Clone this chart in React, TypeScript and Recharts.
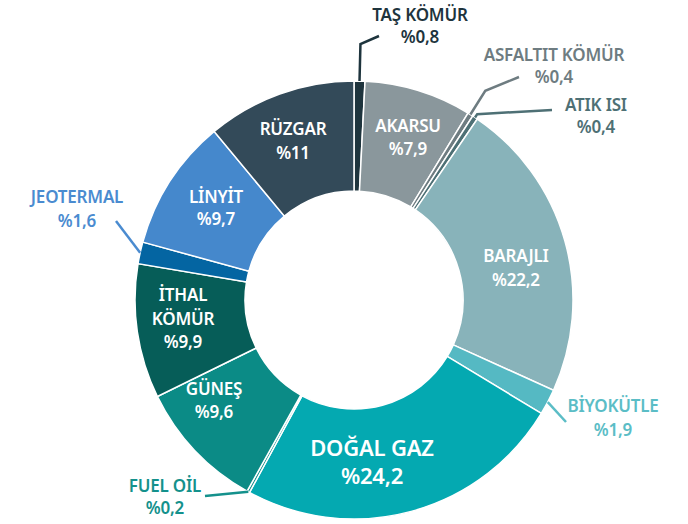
import { PieChart, Pie, Cell } from 'recharts'

const NAMES = ['TAŞ KÖMÜR', 'AKARSU', 'ASFALTIT KÖMÜR', 'ATIK ISI', 'BARAJLI', 'BİYOKÜTLE', 'DOĞAL GAZ', 'FUEL OİL', 'GÜNEŞ', 'İTHAL KÖMÜR', 'JEOTERMAL', 'LİNYİT', 'RÜZGAR']
const VALUES = [0.8, 7.9, 0.4, 0.4, 22.2, 1.9, 24.2, 0.2, 9.6, 9.9, 1.6, 9.7, 11]
const COLORS = ['#1e343d', '#8a979c', '#6e7c81', '#4e7075', '#88b3ba', '#55b9c3', '#04a9b1', '#138f8a', '#0b8b86', '#065d58', '#0465a2', '#4588cc', '#334a59']

const data = NAMES.map((name, i) => ({ name, value: VALUES[i] }))

const FONT = '"Noto Sans", "Open Sans", sans-serif'
const RAD = Math.PI / 180

type Layout = {
  x: number
  y: number[]
  color?: string
  size?: number
  split?: boolean
  leader?: { elbow?: number; end: [number, number] }
}

// label placement relative to the pie centre
const LAYOUT: Record<string, Layout> = {
  'TAŞ KÖMÜR': { x: 66, y: [-279, -257], color: '#1e343d', leader: { elbow: 256, end: [25, -264] } },
  'AKARSU': { x: 54, y: [-168, -145] },
  'ASFALTIT KÖMÜR': { x: 200, y: [-239, -217], color: '#6e7c81', leader: { elbow: 247, end: [165, -223] } },
  'ATIK ISI': { x: 242, y: [-189, -167], color: '#4e7075', leader: { elbow: 223, end: [198, -190] } },
  'BARAJLI': { x: 162, y: [-38, -14] },
  'BİYOKÜTLE': { x: 259, y: [112, 136], color: '#5bbdc6', leader: { end: [212, 122] } },
  'DOĞAL GAZ': { x: 18, y: [156, 184], size: 22 },
  'FUEL OİL': { x: -189, y: [192, 214], color: '#14918c', leader: { end: [-149, 196] } },
  'GÜNEŞ': { x: -140, y: [95, 118] },
  'İTHAL KÖMÜR': { x: -171, y: [1, 25, 48], split: true },
  'JEOTERMAL': { x: -277, y: [-97, -73], color: '#4a8bd0', leader: { end: [-238, -79] } },
  'LİNYİT': { x: -138, y: [-97, -75] },
  'RÜZGAR': { x: -61, y: [-165, -141] },
}

const polar = (cx: number, cy: number, r: number, a: number) => [cx + r * Math.cos(-a * RAD), cy + r * Math.sin(-a * RAD)]

function renderLabel(p: any) {
  const { cx, cy, midAngle, outerRadius, index } = p
  const name = NAMES[index]
  const L = LAYOUT[name]
  const pct = '%' + String(VALUES[index]).replace('.', ',')
  const lines = L.split ? [...name.split(' '), pct] : [name, pct]
  const color = L.color ?? '#ffffff'
  let leader = null
  if (L.leader) {
    const pts = [polar(cx, cy, outerRadius, midAngle)]
    if (L.leader.elbow) pts.push(polar(cx, cy, L.leader.elbow, midAngle))
    pts.push([cx + L.leader.end[0], cy + L.leader.end[1]])
    leader = (
      <polyline points={pts.map(q => q.join(',')).join(' ')} fill="none" stroke={color} strokeWidth={2.5} />
    )
  }
  return (
    <g key={name}>
      {leader}
      {lines.map((t, k) => (
        <text key={k} x={cx + L.x} y={cy + L.y[k]} textAnchor="middle" fill={color}
          fontSize={L.size ?? 17} fontWeight={600} fontFamily={FONT} letterSpacing={-0.2}>
          {t}
        </text>
      ))}
    </g>
  )
}

export default function App() {
  return (
    <div style={{ position: 'absolute', left: 0, top: 0, width: 688, height: 524, background: '#fff' }}>
      <PieChart width={688} height={524} margin={{ top: 0, right: 0, bottom: 0, left: 0 }}>
        <Pie data={data} dataKey="value" nameKey="name" cx={354} cy={300}
          innerRadius={109} outerRadius={219} startAngle={90} endAngle={-270}
          stroke="#ffffff" strokeWidth={1.5} label={renderLabel} labelLine={false}
          isAnimationActive={false}>
          {data.map((_, i) => <Cell key={i} fill={COLORS[i]} />)}
        </Pie>
      </PieChart>
    </div>
  )
}
